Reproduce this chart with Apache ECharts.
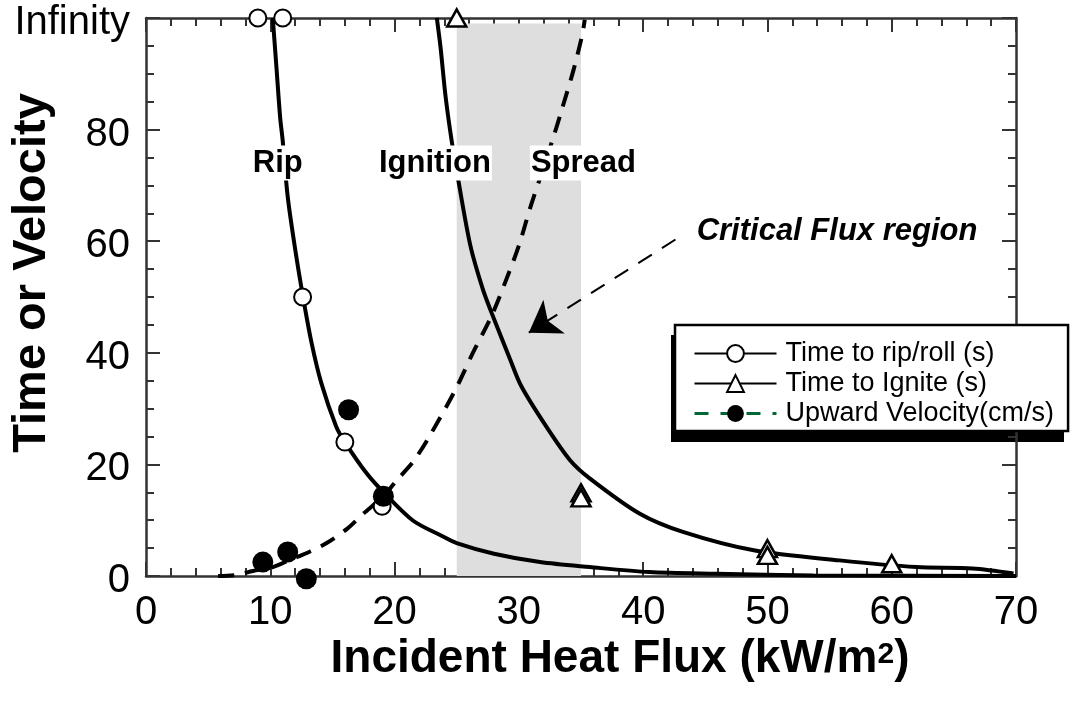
<!DOCTYPE html>
<html>
<head>
<meta charset="utf-8">
<script src="https://cdn.jsdelivr.net/npm/echarts@6/dist/echarts.min.js"></script>
<style>
  html, body { margin: 0; padding: 0; background: #fff; }
  #chart { width: 1073px; height: 704px; }
</style>
</head>
<body>
<div id="chart"></div>
<script>
// fitted curves
const ripCurveX = [10.2, 10.5, 10.8, 11.0, 11.4, 12.0, 12.65, 13.3, 14.1, 15.3, 16.0, 17.75, 19.2, 21.5, 23.7, 25, 28, 31.7, 35.7, 40.5, 45.9, 53.7, 70];
const ripCurveY = [100, 91, 82, 78, 68, 58.6, 49.8, 42, 34.6, 26.8, 24, 18.4, 14.8, 9.9, 7.3, 5.9, 4.0, 2.5, 1.6, 0.7, 0.4, 0.1, 0];
const ignCurveX = [23.4, 23.7, 24.1, 24.6, 25.1, 26.1, 27.1, 27.8, 29.3, 30.2, 32.2, 34.1, 35.7, 39.7, 43.2, 48.9, 55.8, 62, 66.5, 69.8];
const ignCurveY = [100, 94.7, 86, 77.9, 71.3, 59.2, 51.4, 47.2, 38.8, 34, 26.8, 20.8, 17.5, 11.2, 7.9, 4.6, 2.8, 1.6, 1.35, 0.45];
const velCurveX = [5.8, 7.3, 8.6, 10.2, 11.5, 13.2, 14.6, 16.2, 17.5, 19.1, 20.2, 21.5, 22.8, 24.9, 26.3, 27.8, 29.0, 30.0, 30.9, 31.7, 32.8, 33.5, 34.4, 35.1, 35.3];
const velCurveY = [0, 0.2, 0.9, 1.6, 2.8, 4.4, 6, 8.5, 11.2, 14.3, 17.2, 20.5, 25, 33.4, 40, 46.6, 53.2, 59.2, 65.9, 71.3, 78.8, 83.9, 90.7, 97, 99.7];

// measured points (100 = Infinity)
const ripX = [9, 11, 12.6, 16, 19];
const ripY = [100, 100, 50, 24, 12.5];
const ignX = [25, 35, 35, 50, 50, 60];
const ignY = [100, 14.9, 14.0, 4.9, 3.7, 2.2];
const velX = [9.4, 11.4, 12.9, 16.3, 19.1];
const velY = [2.5, 4.3, -0.5, 29.8, 14.3];

// annotations
const noteX = [10.6, 23.25, 35.2];
const noteY = [74, 74, 74];
const noteText = ['Rip', 'Ignition', 'Spread'];
const criticalText = 'Critical Flux region';
const criticalAt = [55.6, 61.8];
const arrowFrom = [42.6, 60.3];
const arrowTo = [30.8, 43.6];
const regionX = [25, 35];
const regionTop = 99;

const yTicks = { 100: 'Infinity' };
const names = ['Time to rip/roll (s)', 'Time to Ignite (s)', 'Upward Velocity(cm/s)'];

const zip = (xs, ys) => xs.map((x, i) => [x, ys[i]]);

const axisCommon = {
  type: 'value',
  nameMoveOverlap: false,
  axisLine: { show: true, onZero: false, lineStyle: { color: '#333', width: 2.5 } },
  axisTick: { show: true, inside: true, length: 14, lineStyle: { color: '#333', width: 2 } },
  minorTick: { show: true, length: 8, lineStyle: { color: '#333', width: 2 } },
  splitLine: { show: false },
  minorSplitLine: { show: false }
};

const chart = echarts.init(document.getElementById('chart'));
chart.setOption({
  animation: false,
  backgroundColor: '#fff',
  textStyle: { fontFamily: 'Liberation Sans, Arial, sans-serif', color: '#000' },
  grid: { left: 146, right: 57, top: 18, bottom: 128, containLabel: false, outerBoundsMode: 'none' },
  // legend drop shadow
  graphic: [{
    type: 'rect',
    shape: { x: 671, y: 335, width: 393, height: 107 },
    style: { fill: '#000' },
    silent: true
  }],
  legend: {
    data: [
      { name: names[0] },
      { name: names[1] },
      { name: names[2], lineStyle: { color: '#006633', type: [14, 12], width: 3 } }
    ],
    orient: 'vertical',
    left: 675,
    top: 325,
    z: 10,
    itemWidth: 82,
    itemHeight: 21,
    itemGap: 3,
    selectedMode: false,
    padding: [15, 14, 4, 18],
    backgroundColor: '#fff',
    borderColor: '#000',
    borderWidth: 2.5,
    textStyle: { fontSize: 27, color: '#000', padding: [0, 0, 0, 4] }
  },
  xAxis: [
    Object.assign({}, axisCommon, {
      position: 'bottom', min: 0, max: 70, interval: 10,
      minorTick: Object.assign({}, axisCommon.minorTick, { splitNumber: 5 }),
      axisLabel: { fontSize: 40, color: '#000', margin: 17 },
      name: 'Incident Heat Flux (kW/m{sup|2})',
      nameLocation: 'middle',
      nameGap: 60,
      nameTextStyle: {
        fontSize: 46, fontWeight: 'bold', color: '#000', padding: [0, 0, 0, 78],
        rich: { sup: { fontSize: 30, fontWeight: 'bold', color: '#000', padding: [0, 0, 8, 0] } }
      }
    }),
    Object.assign({}, axisCommon, {
      position: 'top', min: 0, max: 70, interval: 10,
      minorTick: Object.assign({}, axisCommon.minorTick, { splitNumber: 5 }),
      axisLabel: { show: false }
    })
  ],
  yAxis: [
    Object.assign({}, axisCommon, {
      position: 'left', min: 0, max: 100, interval: 20,
      minorTick: Object.assign({}, axisCommon.minorTick, { splitNumber: 4 }),
      axisLabel: {
        fontSize: 40, color: '#000', margin: 16,
        verticalAlign: 'top', lineHeight: 10,
        formatter: v => yTicks[v] || String(v)
      },
      name: 'Time or Velocity',
      nameLocation: 'middle',
      nameRotate: 90,
      nameGap: 90,
      nameTextStyle: { fontSize: 47, fontWeight: 'bold', color: '#000', padding: [0, 0, 0, 48] }
    }),
    Object.assign({}, axisCommon, {
      position: 'right', min: 0, max: 100, interval: 20,
      minorTick: Object.assign({}, axisCommon.minorTick, { splitNumber: 4 }),
      axisLabel: { show: false }
    })
  ],
  series: [
    {
      name: 'region',
      type: 'line',
      data: [],
      z: 1,
      markArea: {
        silent: true,
        itemStyle: { color: '#dedede' },
        data: [[{ coord: [regionX[0], 0] }, { coord: [regionX[1], regionTop] }]]
      }
    },
    {
      name: names[0],
      type: 'line',
      data: zip(ripCurveX, ripCurveY),
      smooth: 0.3,
      symbol: 'emptyCircle',
      showSymbol: false,
      itemStyle: { color: '#000' },
      lineStyle: { color: '#000', width: 4 },
      z: 3
    },
    {
      name: names[1],
      type: 'line',
      data: zip(ignCurveX, ignCurveY),
      smooth: 0.3,
      symbol: 'emptyTriangle',
      showSymbol: false,
      itemStyle: { color: '#000' },
      lineStyle: { color: '#000', width: 4 },
      z: 3
    },
    {
      name: names[2],
      type: 'line',
      data: zip(velCurveX, velCurveY),
      smooth: 0.3,
      symbol: 'circle',
      showSymbol: false,
      itemStyle: { color: '#000' },
      lineStyle: { color: '#000', width: 4, type: [16, 11] },
      z: 3
    },
    {
      name: 'rip points',
      type: 'scatter',
      data: zip(ripX, ripY),
      symbol: 'circle',
      symbolSize: 17,
      clip: false,
      itemStyle: { color: '#fff', borderColor: '#000', borderWidth: 2, opacity: 1 },
      z: 5
    },
    {
      name: 'ignite points',
      type: 'scatter',
      data: zip(ignX, ignY),
      symbol: 'triangle',
      symbolSize: [19, 17],
      clip: false,
      itemStyle: { color: '#fff', borderColor: '#000', borderWidth: 2.5, opacity: 1 },
      z: 5
    },
    {
      name: 'velocity points',
      type: 'scatter',
      data: zip(velX, velY),
      symbol: 'circle',
      symbolSize: 21,
      clip: false,
      itemStyle: { color: '#000', opacity: 1 },
      z: 6
    },
    {
      name: 'notes',
      type: 'scatter',
      symbolSize: 0,
      z: 7,
      itemStyle: { opacity: 1 },
      data: noteX.map((x, i) => ({
        value: [x, noteY[i]],
        label: {
          show: true, position: 'inside', formatter: noteText[i],
          fontSize: 31, fontWeight: 'bold', color: '#000',
          backgroundColor: '#fff', padding: [2, 1, 2, 1]
        }
      })).concat([{
        value: criticalAt,
        label: {
          show: true, position: 'inside', formatter: criticalText,
          fontSize: 31, fontWeight: 'bold', fontStyle: 'italic', color: '#000'
        }
      }]),
      markLine: {
        silent: true,
        symbol: ['none', 'arrow'],
        symbolSize: 30,
        label: { show: false },
        lineStyle: { color: '#000', width: 2, type: [16, 12], opacity: 1 },
        data: [[{ coord: arrowFrom }, { coord: arrowTo }]]
      }
    }
  ]
});
</script>
</body>
</html>
